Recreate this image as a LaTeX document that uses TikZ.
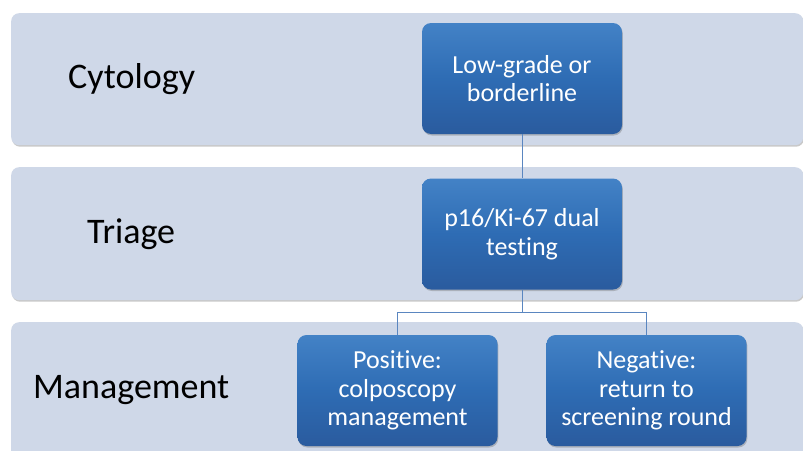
\documentclass[tikz,border=0pt]{standalone}
\usepackage{fontspec}
\setmainfont{Carlito}[Ligatures=NoCommon]
\usetikzlibrary{shadows}
\definecolor{bandfill}{HTML}{CFD8E8}
\definecolor{boxtop}{HTML}{4382C6}
\definecolor{boxmid}{HTML}{2E6CB4}
\definecolor{boxbot}{HTML}{2A5B9E}
\definecolor{linecol}{HTML}{5A86C0}
\begin{document}
\begin{tikzpicture}[x=1pt,y=-1pt,
  band/.style={draw=none, fill=bandfill, rounded corners=8pt, anchor=north west,
    drop shadow={shadow xshift=0.8pt, shadow yshift=-1.5pt, opacity=0.35, fill=black!60}},
  bluebox/.style={draw=none, rounded corners=9pt, minimum width=200pt, minimum height=111pt,
    top color=boxtop, bottom color=boxbot, middle color=boxmid,
    text=white, align=center, font=\fontsize{26}{28.5}\selectfont, inner sep=0pt,
    drop shadow={shadow xshift=0.8pt, shadow yshift=-1.5pt, opacity=0.35, fill=black!60}},
  bandlabel/.style={anchor=base west, inner sep=0pt, font=\fontsize{36}{40}\selectfont, text=black},
  conn/.style={draw=linecol, line width=0.9pt}
]
\useasboundingbox (0,0) rectangle (803,450);
\clip (0,0) rectangle (803,450);
\fill[white] (0,0) rectangle (803,450);

% bands
\node[band, minimum width=792pt, minimum height=132pt] (band1) at (11,13) {};
\node[band, minimum width=792pt, minimum height=133pt] (band2) at (11,167) {};
\node[band, minimum width=792pt, minimum height=140pt] (band3) at (11,322) {};

% band labels
\node[bandlabel] (lab1) at (68,88) {Cytology};
\node[bandlabel] (lab2) at (87,243) {Triage};
\node[bandlabel] (lab3) at (33,398) {Management};

% boxes
\node[bluebox] (cyto) at (522,78.5) {Low-grade or\\borderline};
\node[bluebox] (triage) at (522,234) {p16/Ki-67 dual\\testing};
\node[bluebox] (pos) at (397.5,390.5) {Positive:\\colposcopy\\management};
\node[bluebox] (neg) at (646.5,390.5) {Negative:\\return to\\screening round};

% connectors
\coordinate (split) at (522,312);
\draw[conn] (cyto.south) -- (triage.north);
\draw[conn] (triage.south) -- (split);
\draw[conn] (split) -| (pos.north);
\draw[conn] (split) -| (neg.north);
\end{tikzpicture}
\end{document}
